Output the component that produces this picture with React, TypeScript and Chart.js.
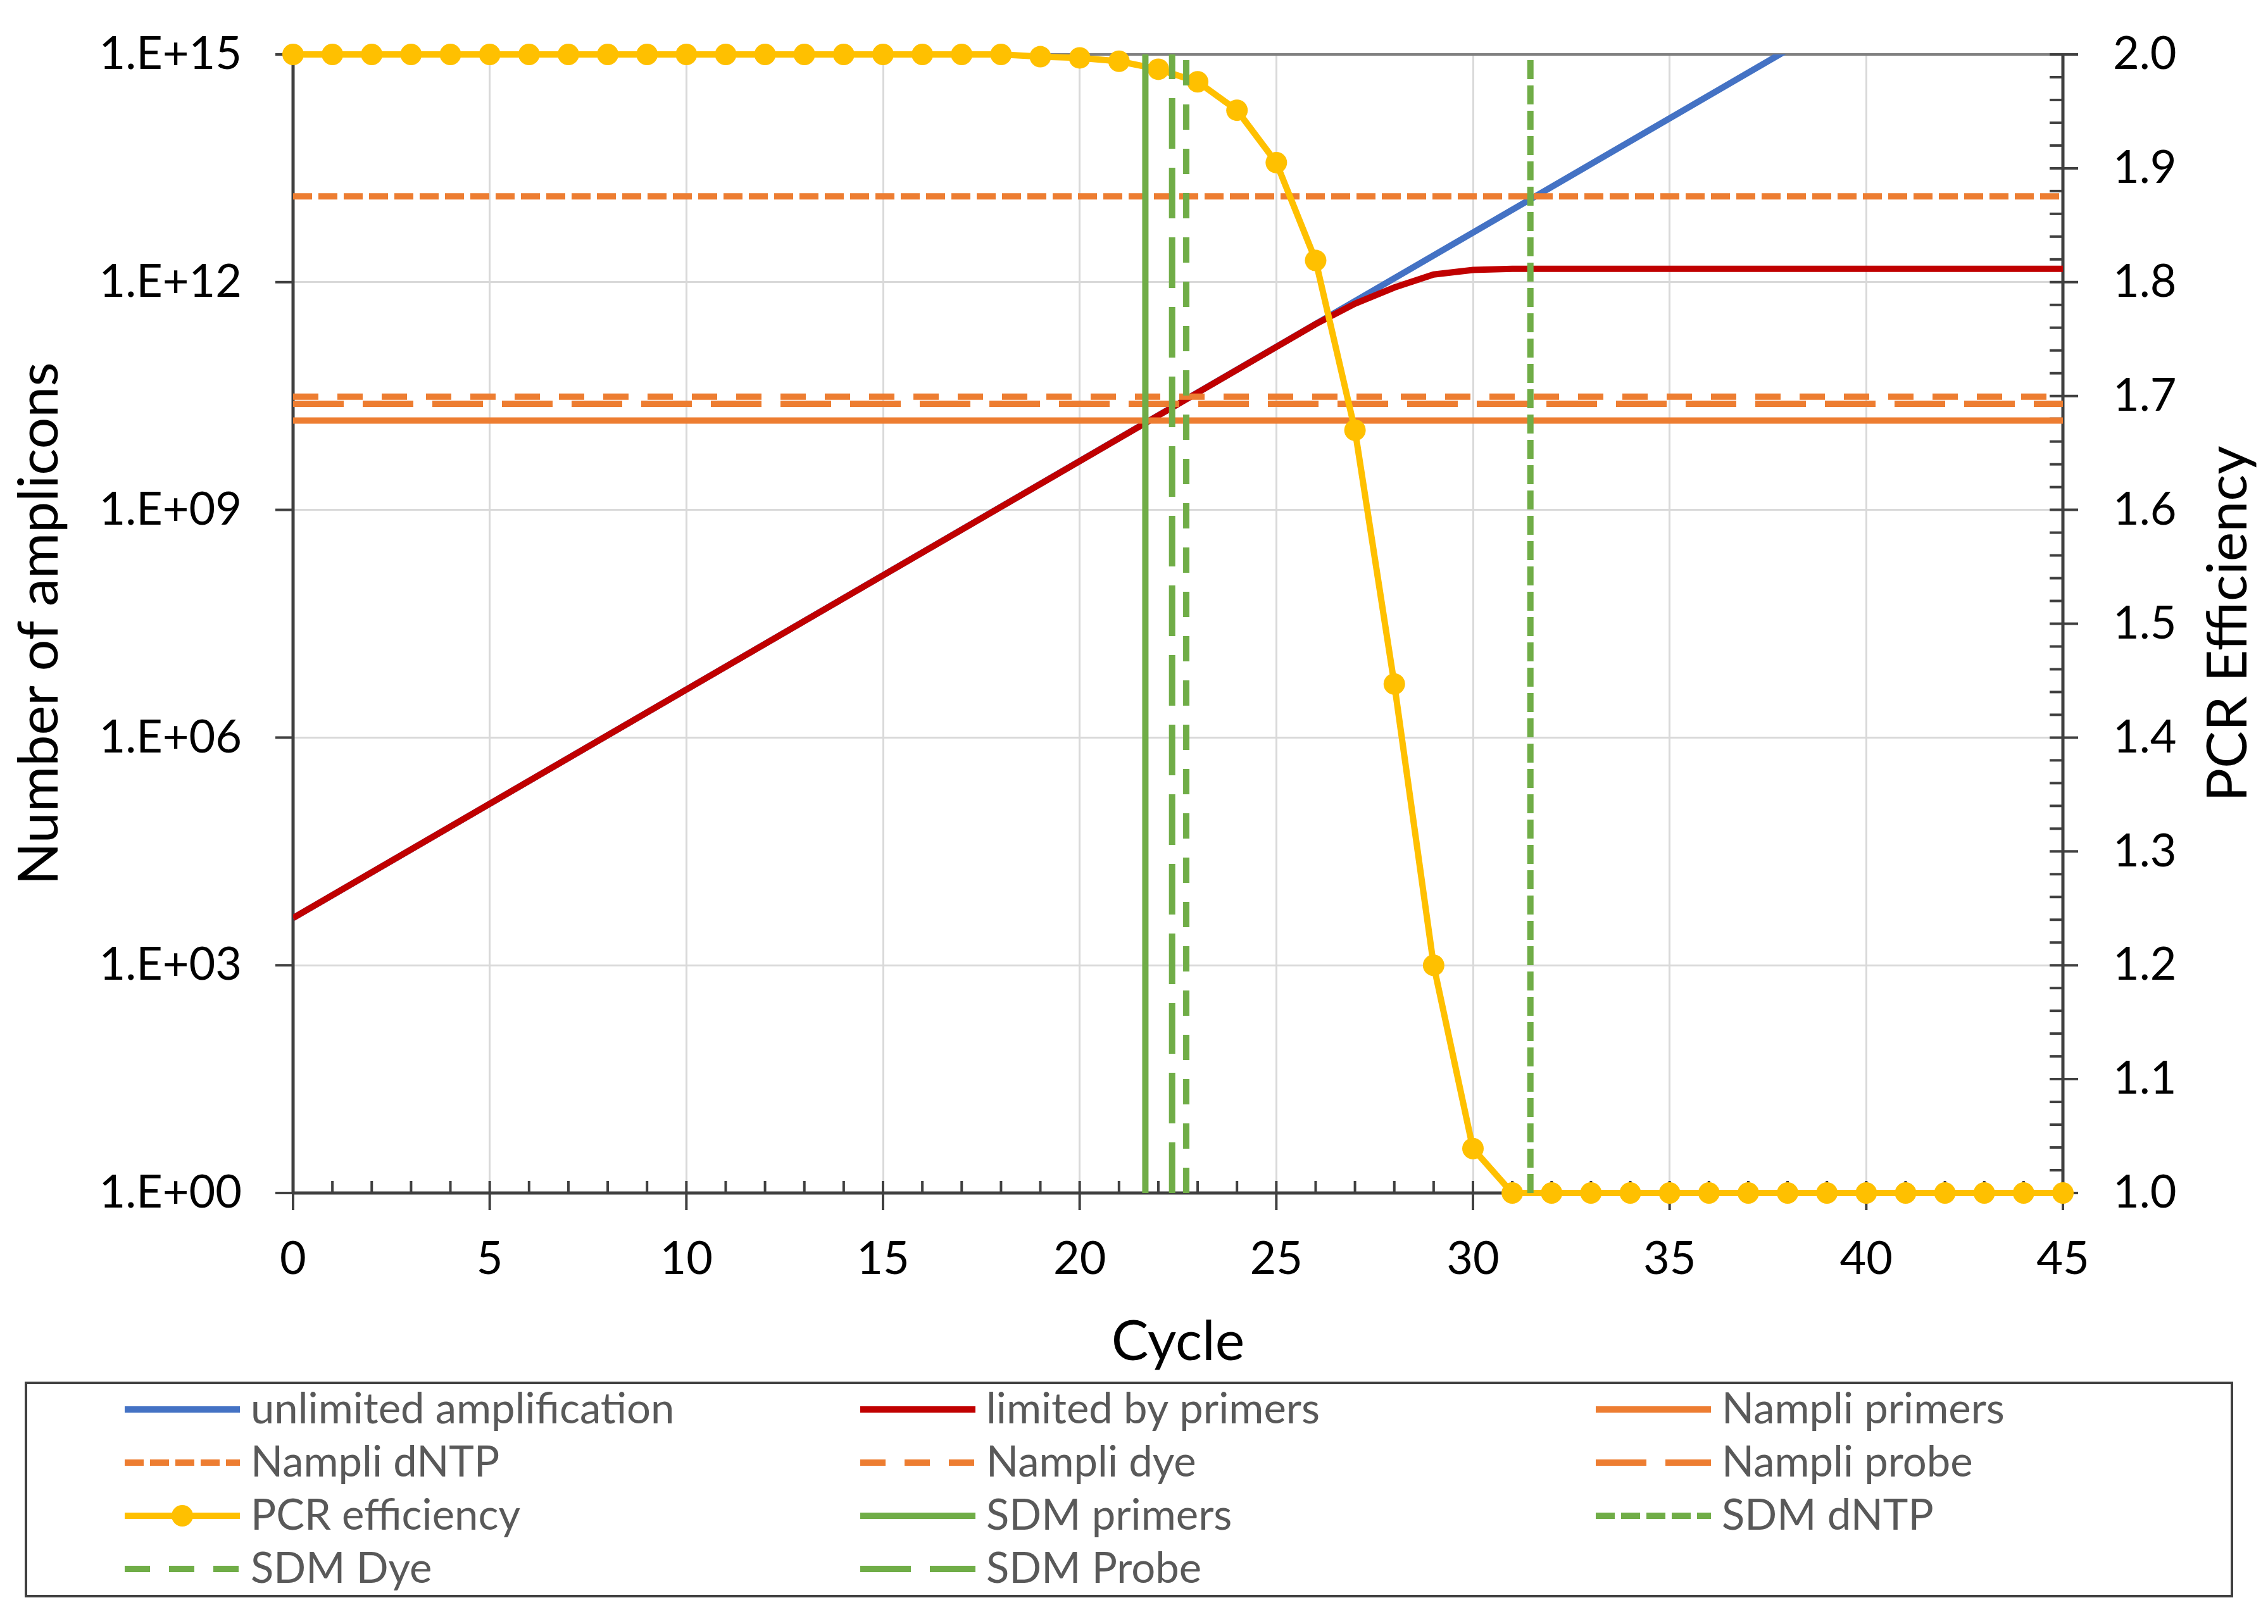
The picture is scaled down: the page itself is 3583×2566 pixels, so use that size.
import { useEffect, useRef } from "react"
import { Chart, registerables } from "chart.js"

Chart.register(...registerables)

const WIDTH = 3583
const HEIGHT = 2566
const FONT = "Lato, 'Open Sans', sans-serif"

// PCR efficiency, one marker per cycle (right axis)
const cycles = [
  0, 1, 2, 3, 4, 5, 6, 7, 8, 9, 10, 11, 12, 13, 14, 15, 16, 17, 18, 19, 20, 21, 22,
  23, 24, 25, 26, 27, 28, 29, 30, 31, 32, 33, 34, 35, 36, 37, 38, 39, 40, 41, 42, 43, 44, 45,
]
const pcrEfficiency = [
  2.0, 2.0, 2.0, 2.0, 2.0, 2.0, 2.0, 2.0, 2.0, 2.0, 2.0, 2.0, 2.0, 2.0, 2.0, 2.0, 2.0, 2.0, 2.0,
  1.998, 1.997, 1.994, 1.987, 1.976, 1.951, 1.905, 1.819, 1.67, 1.447, 1.2, 1.039,
  1.0, 1.0, 1.0, 1.0, 1.0, 1.0, 1.0, 1.0, 1.0, 1.0, 1.0, 1.0, 1.0, 1.0, 1.0,
]

// amplicon curves (left, log axis)
const unlimitedCycles = [0, 40]
const unlimitedAmplicons = [4.2e3, 4.6e15]

const limitedCycles = [0, 25, 26, 27, 28, 29, 30, 31, 45]
const limitedAmplicons = [4.2e3, 1.4e11, 2.8e11, 5.2e11, 8.5e11, 1.26e12, 1.45e12, 1.5e12, 1.5e12]

// thresholds
const nampliLabels = ["Nampli primers", "Nampli dNTP", "Nampli dye", "Nampli probe"]
const nampliLevels = [1.5e10, 1.35e13, 3.1e10, 2.5e10]

const sdmLabels = ["SDM primers", "SDM dNTP", "SDM Dye", "SDM Probe"]
const sdmCycles = [21.67, 31.46, 22.71, 22.35]

// axes
const amplTicks = [1e0, 1e3, 1e6, 1e9, 1e12, 1e15]
const cycleRange = [0, 45]
const effRange = [1, 2]
const minorEffStep = 0.02
const rightTitle = "PCR Efficiency"

const BLUE = "#4472C4"
const RED = "#C00000"
const ORANGE = "#ED7D31"
const YELLOW = "#FFC000"
const GREEN = "#70AD47"
const CLEAR = "rgba(0,0,0,0)"
const LINE_W = 10
// solid, square dot, dash, long dash (same order as the threshold labels)
const DASHES = [[], [30, 10], [40, 30], [80, 30]]

const expLabel = (v: number) => "1.E+" + String(Math.round(Math.log10(v))).padStart(2, "0")

const axisPlugin = {
  id: "excelAxes",
  beforeDatasetsDraw(chart: any) {
    const { ctx, chartArea } = chart
    const { left, right, top, bottom } = chartArea
    const x = chart.scales.x
    const y = chart.scales.y
    const y1 = chart.scales.y1
    const seg = (x0: number, y0: number, x1: number, y1p: number) => {
      ctx.beginPath()
      ctx.moveTo(x0, y0)
      ctx.lineTo(x1, y1p)
      ctx.stroke()
    }
    ctx.save()
    ctx.lineCap = "butt"
    ctx.strokeStyle = "#808080"
    ctx.lineWidth = 4
    seg(left, top, right, top)

    ctx.strokeStyle = "#404040"
    ctx.lineWidth = 5
    seg(left, top - 2, left, bottom + 2)
    seg(left, bottom, right, bottom)
    seg(right, top - 2, right, bottom + 2)

    ctx.lineWidth = 4
    amplTicks.forEach((v) => {
      const py = y.getPixelForValue(v)
      seg(left - 28, py, left, py)
    })
    for (let c = cycleRange[0]; c <= cycleRange[1]; c++) {
      const px = x.getPixelForValue(c)
      seg(px, bottom - 19, px, c % 5 === 0 ? bottom + 27 : bottom)
    }
    const n = Math.round((effRange[1] - effRange[0]) / minorEffStep)
    for (let i = 0; i <= n; i++) {
      const py = y1.getPixelForValue(effRange[0] + i * minorEffStep)
      seg(right - 21, py, i % 5 === 0 ? right + 24 : right, py)
    }
    ctx.restore()
  },
}

const legendPlugin = {
  id: "boxLegend",
  afterDraw(chart: any) {
    const { ctx, chartArea } = chart
    ctx.save()

    // secondary axis title, reading bottom to top
    ctx.save()
    ctx.translate(3521, (chartArea.top + chartArea.bottom) / 2)
    ctx.rotate(-Math.PI / 2)
    ctx.fillStyle = "#000"
    ctx.font = `88px ${FONT}`
    ctx.textAlign = "center"
    ctx.textBaseline = "middle"
    ctx.fillText(rightTitle, 0, 0)
    ctx.restore()

    ctx.strokeStyle = "#404040"
    ctx.lineWidth = 4
    ctx.strokeRect(41, 2185, 3485, 337)
    chart.data.datasets.forEach((ds: any, i: number) => {
      const col = i % 3
      const row = Math.floor(i / 3)
      const x0 = 197 + col * 1162
      const yc = 2227 + row * 84
      ctx.strokeStyle = ds.borderColor
      ctx.lineWidth = ds.borderWidth
      ctx.lineCap = "butt"
      ctx.setLineDash(ds.borderDash || [])
      ctx.beginPath()
      ctx.moveTo(x0, yc)
      ctx.lineTo(x0 + 182, yc)
      ctx.stroke()
      ctx.setLineDash([])
      if (ds.pointRadius > 0) {
        ctx.fillStyle = ds.borderColor
        ctx.beginPath()
        ctx.arc(x0 + 91, yc, ds.pointRadius, 0, Math.PI * 2)
        ctx.fill()
      }
      ctx.fillStyle = "#595959"
      ctx.font = `67px ${FONT}`
      ctx.textBaseline = "middle"
      ctx.textAlign = "left"
      ctx.fillText(ds.label, x0 + 199, yc)
    })
    ctx.restore()
  },
}

export default function App() {
  const chartRef = useRef<HTMLCanvasElement>(null)
  const chartInstance = useRef<Chart | null>(null)

  useEffect(() => {
    document.body.style.margin = "0"
    if (!chartRef.current) return
    if (chartInstance.current) chartInstance.current.destroy()
    const ctx = chartRef.current.getContext("2d")
    if (!ctx) return

    const lineDs = (label: string, color: string, data: any[], dash: number[], order: number) => ({
      label,
      data,
      borderColor: color,
      backgroundColor: color,
      borderWidth: LINE_W,
      borderDash: dash,
      pointRadius: 0,
      pointHoverRadius: 0,
      fill: false,
      tension: 0,
      order,
      yAxisID: "y",
    })

    const nampliSets = nampliLabels.map((label, i) =>
      lineDs(
        label,
        ORANGE,
        cycleRange.map((c) => ({ x: c, y: nampliLevels[i] })),
        DASHES[i],
        8
      )
    )
    const sdmSets = sdmLabels.map((label, i) =>
      lineDs(
        label,
        GREEN,
        [amplTicks[0], amplTicks[amplTicks.length - 1]].map((v) => ({ x: sdmCycles[i], y: v })),
        DASHES[i],
        1
      )
    )

    const pcrSet = {
      label: "PCR efficiency",
      data: cycles.map((c, i) => ({ x: c, y: pcrEfficiency[i] })),
      borderColor: YELLOW,
      backgroundColor: YELLOW,
      borderWidth: LINE_W,
      borderDash: [],
      pointRadius: 17,
      pointHoverRadius: 17,
      pointBorderWidth: 0,
      pointBackgroundColor: YELLOW,
      fill: false,
      tension: 0,
      order: 5,
      clip: false,
      yAxisID: "y1",
    }

    const datasets: any[] = [
      lineDs(
        "unlimited amplification",
        BLUE,
        unlimitedCycles.map((c, i) => ({ x: c, y: unlimitedAmplicons[i] })),
        [],
        10
      ),
      lineDs(
        "limited by primers",
        RED,
        limitedCycles.map((c, i) => ({ x: c, y: limitedAmplicons[i] })),
        [],
        9
      ),
      ...nampliSets,
      pcrSet,
      ...sdmSets,
    ]

    const tickFont = { family: FONT, size: 72 }
    const titleFont = { family: FONT, size: 88 }

    chartInstance.current = new Chart(ctx, {
      type: "line",
      data: { datasets },
      plugins: [axisPlugin, legendPlugin],
      options: {
        animation: false,
        responsive: true,
        maintainAspectRatio: false,
        devicePixelRatio: 1,
        events: [],
        layout: { padding: { left: 0, right: 0, top: 86, bottom: HEIGHT - 2185 } },
        plugins: {
          legend: { display: false },
          tooltip: { enabled: false },
        },
        scales: {
          x: {
            type: "linear",
            min: cycleRange[0],
            max: cycleRange[1],
            afterFit: (scale: any) => {
              scale.height = 300
            },
            ticks: { stepSize: 5, font: tickFont, color: "#000", padding: 62, maxRotation: 0 },
            grid: {
              color: (c: any) =>
                c.tick && (c.tick.value === cycleRange[0] || c.tick.value === cycleRange[1])
                  ? CLEAR
                  : "#D9D9D9",
              lineWidth: 3,
              drawTicks: false,
            },
            border: { display: false },
            title: {
              display: true,
              text: "Cycle",
              font: titleFont,
              color: "#000",
              padding: { top: 0, bottom: 12 },
            },
          },
          y: {
            type: "logarithmic",
            position: "left",
            min: amplTicks[0],
            max: amplTicks[amplTicks.length - 1],
            afterFit: (scale: any) => {
              scale.width = 463
            },
            afterBuildTicks: (scale: any) => {
              scale.ticks = amplTicks.map((v) => ({ value: v }))
            },
            ticks: {
              font: tickFont,
              color: "#000",
              padding: 0,
              autoSkip: false,
              callback: (v: any) => expLabel(Number(v)),
            },
            grid: {
              color: (c: any) =>
                c.tick && (c.tick.value === amplTicks[0] || c.tick.value === amplTicks[amplTicks.length - 1])
                  ? CLEAR
                  : "#D9D9D9",
              lineWidth: 3,
              drawTicks: true,
              tickLength: 81,
              tickColor: CLEAR,
            },
            border: { display: false },
            title: {
              display: true,
              text: "Number of amplicons",
              font: titleFont,
              color: "#000",
              padding: { top: 10, bottom: 0 },
            },
          },
          y1: {
            type: "linear",
            position: "right",
            min: effRange[0],
            max: effRange[1],
            afterFit: (scale: any) => {
              scale.width = WIDTH - 3259
            },
            ticks: {
              stepSize: 0.1,
              font: tickFont,
              color: "#000",
              padding: 0,
              autoSkip: false,
              callback: (v: any) => Number(v).toFixed(1),
            },
            grid: {
              display: true,
              drawOnChartArea: false,
              color: CLEAR,
              drawTicks: true,
              tickLength: 79,
              tickColor: CLEAR,
            },
            border: { display: false },
            title: { display: false },
          },
        },
      } as any,
    })

    return () => {
      if (chartInstance.current) {
        chartInstance.current.destroy()
        chartInstance.current = null
      }
    }
  }, [])

  return (
    <div style={{ width: WIDTH, height: HEIGHT, position: "relative", background: "#fff" }}>
      <canvas ref={chartRef} />
    </div>
  )
}
